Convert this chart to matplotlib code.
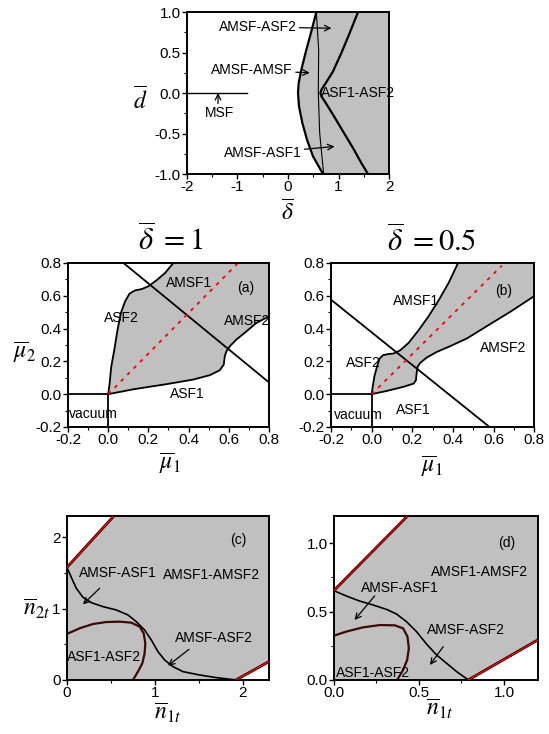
import matplotlib
matplotlib.use('Agg')
import matplotlib.pyplot as plt
from matplotlib.ticker import MultipleLocator, FormatStrFormatter

plt.rcParams['font.family'] = ['Liberation Sans', 'DejaVu Sans']
plt.rcParams['mathtext.fontset'] = 'stix'
plt.rcParams['axes.unicode_minus'] = False

GRAY = '#c0c0c0'

# ---- top panel: d vs delta ----
top_left_x = [0.561, 0.462, 0.363, 0.264, 0.211, 0.198, 0.218, 0.284, 0.376, 0.495, 0.693]
top_left_y = [1.0, 0.761, 0.535, 0.288, 0.123, 0.0, -0.165, -0.370, -0.576, -0.782, -1.0]
top_thin_x = [0.561, 0.607, 0.60, 0.627, 0.706]
top_thin_y = [1.0, 0.535, 0.0, -0.494, -1.0]
top_right_x = [1.386, 1.221, 1.056, 0.891, 0.745, 0.665, 0.640, 0.665, 0.745, 0.891, 1.089, 1.287, 1.452, 1.584]
top_right_y = [1.0, 0.741, 0.494, 0.267, 0.12, 0.045, 0.0, -0.045, -0.12, -0.267, -0.473, -0.679, -0.864, -1.0]
msf_x = [-2.0, -0.82]
msf_y = [0.0, 0.0]

# ---- panel (a): delta = 1 ----
a_up_x = [0.0, 0.007, 0.015, 0.03, 0.046, 0.063, 0.084, 0.106, 0.134, 0.167, 0.20, 0.241, 0.283, 0.324]
a_up_y = [0.0, 0.065, 0.167, 0.268, 0.39, 0.495, 0.566, 0.613, 0.633, 0.641, 0.658, 0.695, 0.739, 0.8]
a_lo_x = [0.0, 0.126, 0.29, 0.423, 0.506, 0.555, 0.575, 0.58, 0.588, 0.605, 0.638, 0.688, 0.737, 0.8]
a_lo_y = [0.0, 0.03, 0.061, 0.089, 0.116, 0.146, 0.18, 0.23, 0.261, 0.292, 0.333, 0.383, 0.434, 0.475]
a_line_x = [0.076, 0.8]
a_line_y = [0.8, 0.072]
a_red_x = [0.0, 0.646]
a_red_y = [0.0, 0.8]

# ---- panel (b): delta = 0.5 ----
b_up_x = [0.0, 0.005, 0.013, 0.026, 0.039, 0.056, 0.079, 0.108, 0.141, 0.182, 0.231, 0.28, 0.33, 0.379, 0.425]
b_up_y = [0.0, 0.045, 0.106, 0.167, 0.217, 0.238, 0.244, 0.248, 0.268, 0.313, 0.39, 0.475, 0.573, 0.679, 0.8]
b_lo_x = [0.0, 0.075, 0.157, 0.207, 0.218, 0.221, 0.226, 0.239, 0.272, 0.321, 0.387, 0.469, 0.567, 0.682, 0.8]
b_lo_y = [0.0, 0.02, 0.045, 0.065, 0.085, 0.126, 0.167, 0.191, 0.224, 0.258, 0.293, 0.34, 0.415, 0.502, 0.598]
b_line_x = [-0.2, 0.58]
b_line_y = [0.576, -0.2]
b_red_x = [0.0, 0.641]
b_red_y = [0.0, 0.784]

# ---- panel (c) ----
c_blk_x = [0.0, 0.049, 0.106, 0.182, 0.277, 0.41, 0.562, 0.694, 0.789, 0.884, 0.96,
           1.036, 1.112, 1.207, 1.321, 1.51, 1.70, 1.928]
c_blk_y = [1.58, 1.44, 1.286, 1.159, 1.085, 1.029, 0.982, 0.912, 0.818, 0.701, 0.561,
           0.397, 0.28, 0.187, 0.117, 0.07, 0.033, 0.0]
c_arc_x = [0.0, 0.144, 0.296, 0.448, 0.60, 0.732, 0.827, 0.873, 0.892, 0.884, 0.858, 0.808, 0.751]
c_arc_y = [0.646, 0.725, 0.785, 0.813, 0.818, 0.804, 0.748, 0.655, 0.514, 0.374, 0.234, 0.117, 0.0]
c_redtop_x = [0.0, 0.534]
c_redtop_y = [1.58, 2.3]
c_redbot_x = [1.924, 2.3]
c_redbot_y = [0.0, 0.258]

# ---- panel (d) ----
d_blk_x = [0.0, 0.073, 0.151, 0.23, 0.309, 0.368, 0.427, 0.486, 0.545, 0.604, 0.663, 0.722, 0.791]
d_blk_y = [0.654, 0.615, 0.578, 0.549, 0.517, 0.483, 0.427, 0.354, 0.263, 0.183, 0.122, 0.061, 0.0]
d_arc_x = [0.0, 0.073, 0.171, 0.27, 0.358, 0.407, 0.433, 0.441, 0.431, 0.407, 0.372]
d_arc_y = [0.324, 0.354, 0.385, 0.402, 0.40, 0.378, 0.317, 0.232, 0.146, 0.073, 0.0]
d_redtop_x = [0.0, 0.433]
d_redtop_y = [0.654, 1.2]
d_redbot_x = [0.79, 1.2]
d_redbot_y = [0.0, 0.294]


def style(ax, xmaj, xmin, ymaj, ymin, fmt_x, fmt_y):
    for s in ax.spines.values():
        s.set_linewidth(1.4)
    ax.xaxis.set_major_locator(MultipleLocator(xmaj))
    ax.xaxis.set_minor_locator(MultipleLocator(xmin))
    ax.yaxis.set_major_locator(MultipleLocator(ymaj))
    ax.yaxis.set_minor_locator(MultipleLocator(ymin))
    ax.xaxis.set_major_formatter(FormatStrFormatter(fmt_x))
    ax.yaxis.set_major_formatter(FormatStrFormatter(fmt_y))
    ax.tick_params(which='major', direction='out', length=3.5, width=1, labelsize=11, pad=1)
    ax.tick_params(which='minor', direction='out', length=2, width=0.8)


def red_edge(ax, x, y):
    ax.plot(x, y, color='black', lw=2.0, zorder=4)
    ax.plot(x, y, color='red', lw=1.0, zorder=5)


def pointer(ax, start, tip):
    ax.annotate('', xy=tip, xytext=start,
                arrowprops=dict(arrowstyle='->', color='black', lw=0.9,
                                shrinkA=0, shrinkB=0))


fig = plt.figure(figsize=(5.49, 7.34), dpi=100)
arrow = dict(arrowstyle='->', color='black', lw=0.9, shrinkA=0, shrinkB=0)
fs = 10
lab = 17

# top panel
ax0 = fig.add_axes([0.3406, 0.7629, 0.368, 0.2207])
ax0.fill_betweenx(top_left_y, top_left_x, 2.0, color=GRAY, lw=0)
ax0.plot(top_left_x, top_left_y, color='black', lw=1.6)
ax0.plot(top_thin_x, top_thin_y, color='black', lw=0.8)
ax0.plot(top_right_x, top_right_y, color='black', lw=1.6)
ax0.plot(msf_x, msf_y, color='black', lw=1.0)
ax0.set_xlim(-2, 2)
ax0.set_ylim(-1, 1)
style(ax0, 1, 0.5, 0.5, 0.25, '%d', '%.1f')
ax0.annotate('AMSF-ASF2', xy=(0.86, 0.80), xytext=(0.17, 0.815), fontsize=fs,
             ha='right', va='center', arrowprops=arrow)
ax0.annotate('AMSF-AMSF', xy=(0.43, 0.25), xytext=(0.10, 0.28), fontsize=fs,
             ha='right', va='center', arrowprops=arrow)
ax0.text(1.385, 0.0, 'ASF1-ASF2', fontsize=fs, ha='center', va='center')
ax0.text(-1.35, -0.25, 'MSF', fontsize=fs, ha='center', va='center')
pointer(ax0, (-1.386, -0.13), (-1.386, 0.0))
ax0.annotate('AMSF-ASF1', xy=(0.92, -0.66), xytext=(0.27, -0.74), fontsize=fs,
             ha='right', va='center', arrowprops=arrow)
fig.text(0.255, 0.862, r'$\overline{d}$', fontsize=lab, ha='center', va='center')
fig.text(0.523, 0.71, r'$\overline{\delta}$', fontsize=lab, ha='center', va='center')

# panel (a)
axa = fig.add_axes([0.1239, 0.4183, 0.366, 0.2234])
axa.fill(a_up_x + [0.8] + a_lo_x[::-1], a_up_y + [0.8] + a_lo_y[::-1], color=GRAY, lw=0)
axa.plot(a_up_x, a_up_y, color='black', lw=1.3)
axa.plot(a_lo_x, a_lo_y, color='black', lw=1.3)
axa.plot(a_line_x, a_line_y, color='black', lw=1.3)
axa.plot([-0.2, 0.0], [0.0, 0.0], color='black', lw=1.3)
axa.plot([0.0, 0.0], [-0.2, 0.0], color='black', lw=1.3)
axa.plot(a_red_x, a_red_y, color='red', lw=1.3, ls=(0, (2, 3)))
axa.set_xlim(-0.2, 0.8)
axa.set_ylim(-0.2, 0.8)
style(axa, 0.2, 0.1, 0.2, 0.1, '%.1f', '%.1f')
axa.text(0.40, 0.678, 'AMSF1', fontsize=fs, ha='center', va='center')
axa.text(0.683, 0.648, '(a)', fontsize=fs, ha='center', va='center')
axa.text(0.064, 0.465, 'ASF2', fontsize=fs, ha='center', va='center')
axa.text(0.69, 0.444, 'AMSF2', fontsize=fs, ha='center', va='center')
axa.text(0.395, 0.0, 'ASF1', fontsize=fs, ha='center', va='center')
axa.text(-0.197, -0.119, 'vacuum', fontsize=fs, ha='left', va='center')
fig.text(0.31, 0.672, r'$\overline{\delta}\ =1$', fontsize=22, ha='center', va='center')
fig.text(0.045, 0.52, r'$\overline{\mu}_2$', fontsize=lab, ha='center', va='center')
fig.text(0.31, 0.369, r'$\overline{\mu}_1$', fontsize=lab, ha='center', va='center')

# panel (b)
axb = fig.add_axes([0.603, 0.4183, 0.370, 0.2234])
axb.fill(b_up_x + [0.8] + b_lo_x[::-1], b_up_y + [0.8] + b_lo_y[::-1], color=GRAY, lw=0)
axb.plot(b_up_x, b_up_y, color='black', lw=1.3)
axb.plot(b_lo_x, b_lo_y, color='black', lw=1.3)
axb.plot(b_line_x, b_line_y, color='black', lw=1.3)
axb.plot([-0.2, 0.0], [0.0, 0.0], color='black', lw=1.3)
axb.plot([0.0, 0.0], [-0.2, 0.0], color='black', lw=1.3)
axb.plot(b_red_x, b_red_y, color='red', lw=1.3, ls=(0, (2, 3)))
axb.set_xlim(-0.2, 0.8)
axb.set_ylim(-0.2, 0.8)
style(axb, 0.2, 0.1, 0.2, 0.1, '%.1f', '%.1f')
axb.text(0.22, 0.566, 'AMSF1', fontsize=fs, ha='center', va='center')
axb.text(0.65, 0.627, '(b)', fontsize=fs, ha='center', va='center')
axb.text(-0.04, 0.19, 'ASF2', fontsize=fs, ha='center', va='center')
axb.text(0.645, 0.282, 'AMSF2', fontsize=fs, ha='center', va='center')
axb.text(0.207, -0.094, 'ASF1', fontsize=fs, ha='center', va='center')
axb.text(-0.187, -0.125, 'vacuum', fontsize=fs, ha='left', va='center')
fig.text(0.787, 0.670, r'$\overline{\delta}\ =0.5$', fontsize=22, ha='center', va='center')
fig.text(0.787, 0.365, r'$\overline{\mu}_1$', fontsize=lab, ha='center', va='center')

# panel (c)
axc = fig.add_axes([0.122, 0.0736, 0.368, 0.2234])
axc.fill([0.0] + c_redbot_x + [2.3] + c_redtop_x[::-1],
         [0.0] + c_redbot_y + [2.3] + c_redtop_y[::-1], color=GRAY, lw=0)
axc.plot(c_blk_x, c_blk_y, color='black', lw=1.2)
axc.plot(c_arc_x, c_arc_y, color='#3d0808', lw=1.6)
red_edge(axc, c_redtop_x, c_redtop_y)
red_edge(axc, c_redbot_x, c_redbot_y)
axc.set_xlim(0, 2.3)
axc.set_ylim(0, 2.3)
style(axc, 1, 0.5, 1, 0.5, '%d', '%d')
axc.text(1.945, 1.96, '(c)', fontsize=fs, ha='center', va='center')
axc.text(0.577, 1.50, 'AMSF-ASF1', fontsize=fs, ha='center', va='center')
pointer(axc, (0.372, 1.286), (0.182, 1.061))
axc.text(1.65, 1.47, 'AMSF1-AMSF2', fontsize=fs, ha='center', va='center')
axc.text(1.67, 0.584, 'AMSF-ASF2', fontsize=fs, ha='center', va='center')
pointer(axc, (1.389, 0.43), (1.15, 0.20))
axc.text(0.423, 0.327, 'ASF1-ASF2', fontsize=fs, ha='center', va='center')
fig.text(0.066, 0.170, r'$\overline{n}_{2t}$', fontsize=lab, ha='center', va='center')
fig.text(0.306, 0.029, r'$\overline{n}_{1t}$', fontsize=lab, ha='center', va='center')

# panel (d)
axd = fig.add_axes([0.608, 0.0736, 0.372, 0.2234])
axd.fill([0.0] + d_redbot_x + [1.2] + d_redtop_x[::-1],
         [0.0] + d_redbot_y + [1.2] + d_redtop_y[::-1], color=GRAY, lw=0)
axd.plot(d_blk_x, d_blk_y, color='black', lw=1.2)
axd.plot(d_arc_x, d_arc_y, color='#3d0808', lw=1.6)
red_edge(axd, d_redtop_x, d_redtop_y)
red_edge(axd, d_redbot_x, d_redbot_y)
axd.set_xlim(0, 1.2)
axd.set_ylim(0, 1.2)
style(axd, 0.5, 0.25, 0.5, 0.25, '%.1f', '%.1f')
axd.text(1.017, 1.0, '(d)', fontsize=fs, ha='center', va='center')
axd.text(0.857, 0.793, 'AMSF1-AMSF2', fontsize=fs, ha='center', va='center')
axd.text(0.39, 0.671, 'AMSF-ASF1', fontsize=fs, ha='center', va='center')
pointer(axd, (0.24, 0.615), (0.122, 0.439))
axd.text(0.776, 0.366, 'AMSF-ASF2', fontsize=fs, ha='center', va='center')
pointer(axd, (0.643, 0.244), (0.565, 0.11))
axd.text(0.228, 0.054, 'ASF1-ASF2', fontsize=fs, ha='center', va='center')
fig.text(0.801, 0.034, r'$\overline{n}_{1t}$', fontsize=lab, ha='center', va='center')

fig.savefig('out.png', dpi=100)
